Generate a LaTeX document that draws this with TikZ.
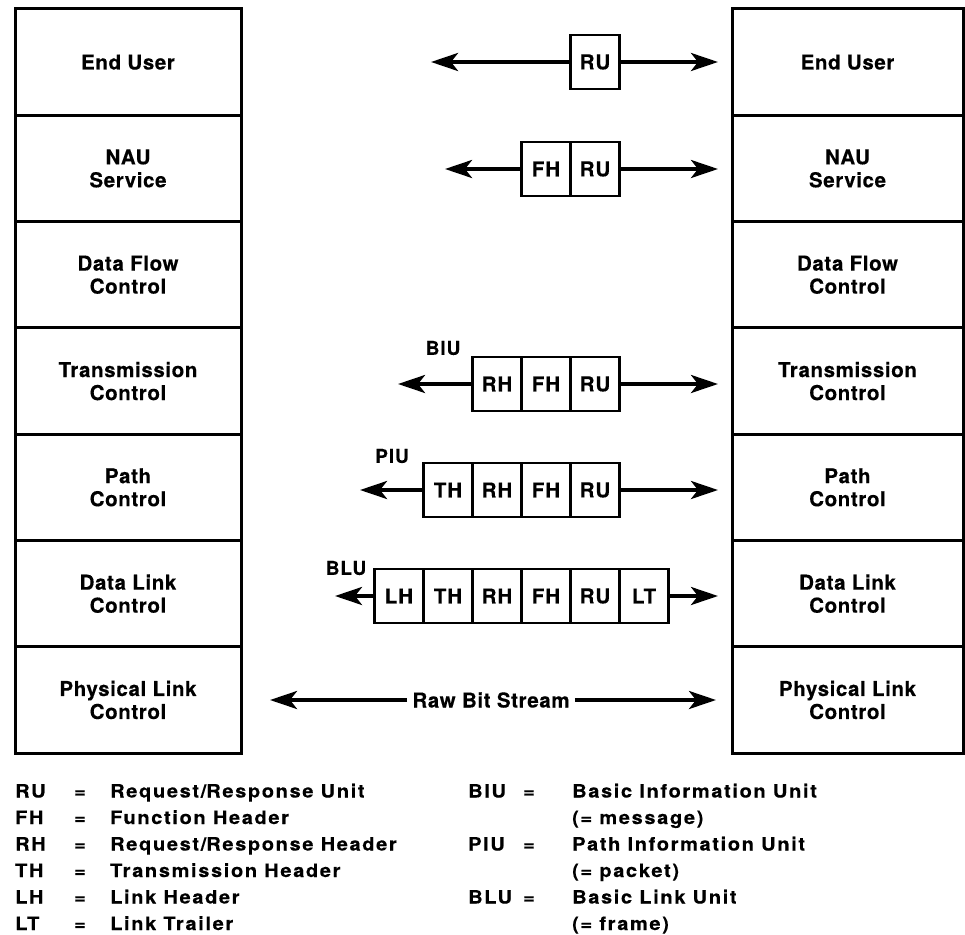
\documentclass[tikz,border=0pt]{standalone}
\usepackage{fontspec}
\setmainfont{TeX Gyre Heros}
\newfontfamily\layerfont{TeX Gyre Heros}[LetterSpace=3, BoldFeatures={FakeBold=0.3}]
\newfontfamily\cellfont{TeX Gyre Heros}[LetterSpace=5, BoldFeatures={FakeBold=0.3}]
\newfontfamily\legfont{TeX Gyre Heros}[FakeStretch=1.08, LetterSpace=9, BoldFeatures={FakeBold=0.3}]
\usetikzlibrary{arrows.meta}

\tikzset{
  layer/.style={draw, line width=3pt, inner sep=0pt, align=center,
    font=\layerfont\bfseries\fontsize{20.5}{23}\selectfont},
  leftlayer/.style={layer, minimum width=226pt, minimum height=106.3pt},
  rightlayer/.style={layer, minimum width=231pt, minimum height=106.3pt},
  cell/.style={draw, line width=2.1pt, inner sep=0pt, minimum width=49pt,
    minimum height=54pt, font=\cellfont\bfseries\fontsize{20.5}{22}\selectfont},
  pdu arrow/.style={line width=3.8pt,
    -{Stealth[length=27pt, width=18pt, inset=7pt]}},
  unitname/.style={inner sep=0pt, font=\cellfont\bfseries\fontsize{19}{22}\selectfont},
  legend/.style={inner sep=0pt, anchor=base west,
    font=\legfont\bfseries\fontsize{18.5}{22}\selectfont},
  eqsign/.style={inner sep=0pt, anchor=base,
    font=\legfont\bfseries\fontsize{18.5}{22}\selectfont}
}

\begin{document}
\begin{tikzpicture}[x=1pt, y=-1pt]
\useasboundingbox (0,0) rectangle (965,934);

% protocol layers of the two stacks
\foreach \name/\txt [count=\i from 0] in {
    eu/End User, nau/NAU\\Service, dfc/Data Flow\\Control,
    tc/Transmission\\Control, pc/Path\\Control, dlc/Data Link\\Control,
    plc/Physical Link\\Control}{
  \node[leftlayer]  (L\name) at (128,   9+106.3*\i+53.15) {\txt};
  \node[rightlayer] (R\name) at (847.5, 9+106.3*\i+53.15) {\txt};
}

% RU
\node[cell] (a1) at (595,62) {RU};
\coordinate (a1l) at (431,62);
\coordinate (a1r) at (718,62);
\draw[pdu arrow] (a1.west) -- (a1l);
\draw[pdu arrow] (a1.east) -- (a1r);

% FH RU
\node[cell] (b1) at (546,169) {FH};
\node[cell] (b2) at (595,169) {RU};
\coordinate (b1l) at (445,169);
\coordinate (b2r) at (718,169);
\draw[pdu arrow] (b1.west) -- (b1l);
\draw[pdu arrow] (b2.east) -- (b2r);

% BIU
\node[cell] (c1) at (497,384) {RH};
\node[cell] (c2) at (546,384) {FH};
\node[cell] (c3) at (595,384) {RU};
\node[unitname] (biu) at (443,348) {BIU};
\coordinate (c1l) at (398,384);
\coordinate (c3r) at (718,384);
\draw[pdu arrow] (c1.west) -- (c1l);
\draw[pdu arrow] (c3.east) -- (c3r);

% PIU
\node[cell] (d1) at (448,490) {TH};
\node[cell] (d2) at (497,490) {RH};
\node[cell] (d3) at (546,490) {FH};
\node[cell] (d4) at (595,490) {RU};
\node[unitname] (piu) at (392,456) {PIU};
\coordinate (d1l) at (360,490);
\coordinate (d4r) at (718,490);
\draw[pdu arrow] (d1.west) -- (d1l);
\draw[pdu arrow] (d4.east) -- (d4r);

% BLU
\node[cell] (e1) at (399,596) {LH};
\node[cell] (e2) at (448,596) {TH};
\node[cell] (e3) at (497,596) {RH};
\node[cell] (e4) at (546,596) {FH};
\node[cell] (e5) at (595,596) {RU};
\node[cell] (e6) at (644,596) {LT};
\node[unitname] (blu) at (346,568) {BLU};
\coordinate (e1l) at (335,596);
\coordinate (e6r) at (718,596);
\draw[pdu arrow] (e1.west) -- (e1l);
\draw[pdu arrow] (e6.east) -- (e6r);

% raw bit stream
\node[inner sep=5pt, font=\layerfont\bfseries\fontsize{20.5}{23}\selectfont]
  (raw) at (491,700) {Raw Bit Stream};
\coordinate (rawl) at (270,700);
\coordinate (rawr) at (716,700);
\draw[pdu arrow] (raw.west) -- (rawl);
\draw[pdu arrow] (raw.east) -- (rawr);

% abbreviations
\foreach \ab/\desc [count=\i from 0] in {
    RU/Request\slash Response Unit, FH/Function Header,
    RH/Request\slash Response Header, TH/Transmission Header,
    LH/Link Header, LT/Link Trailer}{
  \node[legend] (ka\i) at (15, 797.5+26.5*\i) {\ab};
  \node[eqsign] (ke\i) at (80, 797.5+26.5*\i) {=};
  \node[legend] (kd\i) at (110, 797.5+26.5*\i) {\desc};
}
\foreach \ab/\desc/\note [count=\i from 0] in {
    BIU/Basic Information Unit/message, PIU/Path Information Unit/packet,
    BLU/Basic Link Unit/frame}{
  \node[legend] (ma\i) at (468, 797.5+53*\i) {\ab};
  \node[eqsign] (me\i) at (529, 797.5+53*\i) {=};
  \node[legend] (md\i) at (572, 797.5+53*\i) {\desc};
  \node[legend] (mn\i) at (572, 824+53*\i) {(= \note)};
}
\end{tikzpicture}
\end{document}
